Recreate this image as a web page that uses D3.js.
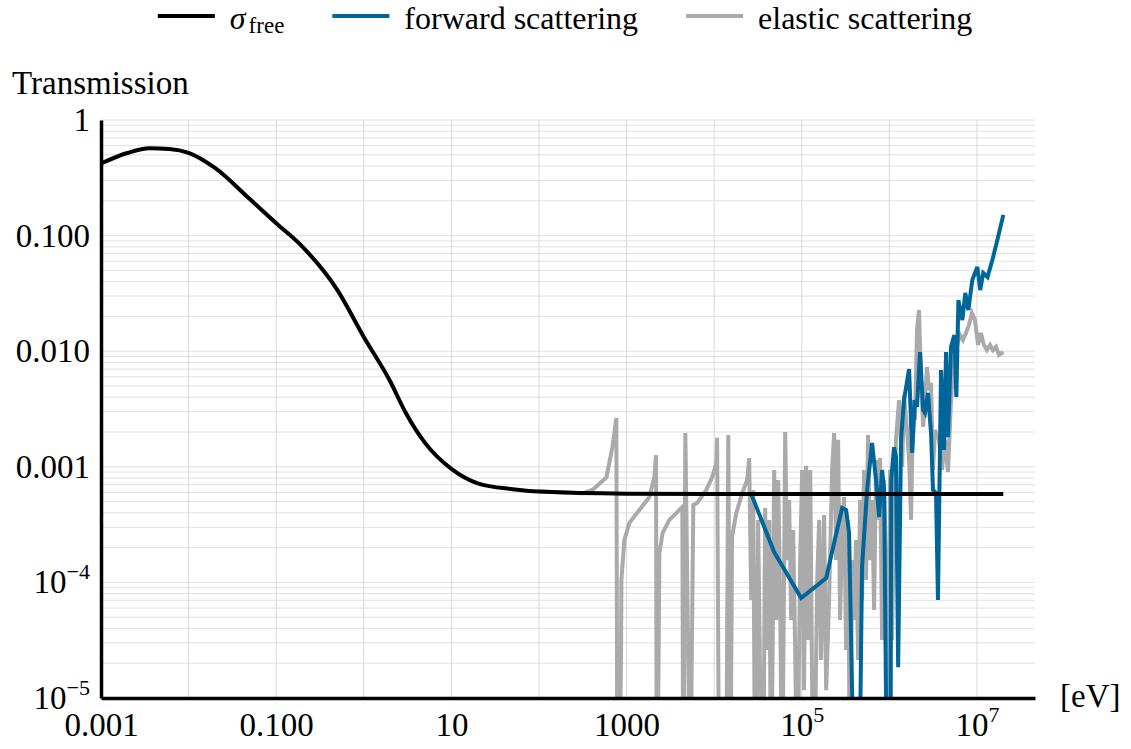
<!DOCTYPE html>
<html>
<head>
<meta charset="utf-8">
<script src="https://cdn.jsdelivr.net/npm/d3@7"></script>
<style>
  body { margin: 0; background: #fff; }
  svg text { font-family: "Liberation Serif", "Times New Roman", serif; fill: #000; }
</style>
</head>
<body>
<div id="chart"></div>
<script>
// sigma_free transmission (energy in eV)
const freeEnergy = [0.001, 0.002, 0.0036, 0.006, 0.01, 0.02, 0.05, 0.1, 0.2, 0.5, 1, 2, 3, 5, 10, 20, 50, 100, 1000, 1e4, 1e5, 1e6, 1e7, 2e7];
const freeTrans = [0.42, 0.518, 0.569, 0.561, 0.52, 0.385, 0.207, 0.128, 0.080, 0.0338, 0.0133, 0.0055, 0.00295, 0.00161, 0.00096, 0.00072, 0.00064, 0.00061, 0.000585, 0.000582, 0.000582, 0.000582, 0.000582, 0.000582];

// forward scattering
const forwardEnergy = [2.65e4, 4.84e4, 9.84e4, 1.9e5, 2.34e5, 2.89e5, 3.21e5, 3.47e5, 3.76e5, 3.96e5, 4.51e5, 4.88e5, 5.57e5, 6.35e5, 7.05e5, 7.64e5, 8.26e5, 8.71e5, 9.42e5, 1.03e6, 1.05e6, 1.13e6, 1.19e6, 1.26e6, 1.36e6, 1.47e6, 1.68e6, 1.82e6, 1.96e6, 2.07e6, 2.24e6, 2.43e6, 2.55e6, 2.76e6, 2.99e6, 3.15e6, 3.41e6, 3.59e6, 3.89e6, 4.21e6, 4.44e6, 4.67e6, 5.06e6, 5.52e6, 5.82e6, 6.14e6, 6.81e6, 7.36e6, 7.98e6, 8.85e6, 1.01e7, 1.09e7, 1.18e7, 1.32e7, 1.5e7, 1.71e7, 2.0e7];
const forwardTrans = [5.82e-4, 1.83e-4, 7.33e-5, 1.09e-4, 2.19e-4, 4.4e-4, 4.23e-4, 2.67e-4, 1.1e-5, 1e-6, 1e-6, 1.36e-4, 6.3e-4, 1.61e-3, 7.69e-4, 3.68e-4, 9.38e-4, 6.3e-4, 1e-6, 1e-6, 7.69e-4, 1.48e-3, 1.22e-3, 1.85e-5, 1.71e-3, 3.78e-3, 7.0e-3, 1.32e-3, 3.78e-3, 3.29e-3, 9.84e-3, 3.1e-3, 2.92e-3, 4.35e-3, 1.96e-3, 6.3e-4, 5.93e-4, 7.04e-5, 6.88e-3, 1.4e-3, 9.84e-3, 1.8e-3, 1.09e-2, 1.38e-2, 4.02e-3, 2.77e-2, 1.86e-2, 3.19e-2, 2.27e-2, 4.13e-2, 5.35e-2, 3.38e-2, 4.75e-2, 4.38e-2, 6.15e-2, 9.16e-2, 0.151];

// elastic scattering (values under 1e-5 fall below the frame)
const elasticEnergy = [100, 313, 407, 589, 689, 765, 785, 828, 865, 873, 944, 1076, 1400, 1820, 2075, 2170, 2210, 2245, 2370, 2580, 3080, 3790, 4330, 4440, 4690, 5330, 5780, 6410, 8130, 9510, 1.06e4, 1.08e4, 1.14e4, 1.37e4, 1.45e4, 1.53e4, 1.6e4, 1.79e4, 2.09e4, 2.38e4, 2.51e4,
  2.65e4, 2.79e4, 2.94e4, 3.18e4, 3.35e4, 3.63e4, 3.82e4, 4.03e4, 4.25e4, 4.48e4, 4.84e4, 5.11e4, 5.38e4, 5.67e4, 5.97e4, 6.47e4, 6.81e4, 7.18e4, 7.57e4, 7.98e4, 8.41e4, 8.87e4, 9.59e4, 1.01e5, 1.06e5, 1.12e5, 1.18e5, 1.25e5, 1.31e5, 1.38e5, 1.5e5, 1.58e5, 1.66e5, 1.8e5, 1.9e5, 2.05e5, 2.22e5, 2.34e5, 2.47e5, 2.6e5, 2.74e5, 2.89e5, 3.04e5, 3.21e5, 3.38e5, 3.56e5, 3.76e5, 3.96e5, 4.17e5, 4.4e5, 4.63e5, 4.88e5, 5.14e5, 5.42e5, 5.71e5, 6.03e5, 6.35e5, 6.7e5, 7.05e5, 7.43e5, 7.83e5, 8.26e5, 8.71e5, 9.16e5, 9.66e5, 1.02e6, 1.07e6, 1.13e6, 1.19e6,
  1.29e6, 1.4e6, 1.47e6, 1.59e6, 1.68e6, 1.77e6, 1.87e6, 1.96e6, 2.07e6, 2.18e6, 2.3e6, 2.43e6, 2.55e6, 2.69e6, 2.84e6, 2.99e6, 3.15e6, 3.32e6, 3.69e6, 3.99e6, 4.32e6, 4.67e6, 5.06e6, 5.47e6, 5.92e6, 6.4e6, 6.92e6, 7.5e6, 8.11e6, 8.77e6, 9.49e6, 1.03e7, 1.11e7, 1.2e7, 1.3e7, 1.41e7, 1.52e7, 1.65e7, 1.78e7, 2.0e7];
const elasticTrans = [6.1e-4, 5.9e-4, 6.3e-4, 8.1e-4, 1.48e-3, 2.64e-3, 1e-6, 1e-6, 2.8e-5, 1.05e-4, 2.33e-4, 3.27e-4, 4.23e-4, 5.48e-4, 8.16e-4, 1.26e-3, 1e-6, 1e-6, 1.8e-4, 2.67e-4, 3.47e-4, 4.06e-4, 4.49e-4, 1e-6, 1.96e-3, 1e-6, 4.67e-4, 4.86e-4, 6.3e-4, 8.16e-4, 1.08e-3, 1.78e-3, 1e-6, 1e-6, 1.88e-3, 1e-6, 2.47e-4, 3.98e-4, 5.93e-4, 7.69e-4, 1.19e-3,
  7.04e-5, 6.3e-4, 1e-6, 3.47e-4, 1.43e-5, 1e-6, 4.4e-4, 2.6e-5, 3.47e-4, 1e-6, 9.38e-4, 4.72e-5, 7.69e-4, 7.04e-5, 1e-6, 2.0e-3, 1.56e-4, 5.16e-4, 4.72e-5, 2.84e-4, 2.6e-5, 1e-6, 1.56e-4, 9.38e-4, 1.17e-5, 1.02e-3, 3.17e-5, 9.38e-4, 1.43e-5, 1e-6, 1.05e-4, 3.47e-4, 2.13e-5, 3.83e-4, 1.17e-5, 7.04e-5, 9.38e-4, 1.96e-3, 1.56e-4, 1.71e-3, 4.72e-5, 2.84e-4, 5.48e-4, 2.6e-5, 3.47e-4, 1e-6, 1.56e-4, 4.72e-5, 2.33e-4, 2.13e-5, 5.16e-4, 7.04e-5, 9.38e-4, 1.05e-4, 1.88e-3, 1.56e-4, 5.16e-4, 5.77e-5, 1.15e-3, 3.47e-4, 1.19e-3, 3.17e-5, 7.69e-4, 1.28e-4, 1e-6, 9.38e-4, 3.17e-5, 3.27e-4, 1.71e-3,
  3.78e-3, 1.0e-3, 4.18e-3, 2.08e-3, 1.15e-3, 3.47e-4, 3.78e-3, 2.54e-3, 1.53e-2, 2.27e-2, 5.63e-3, 2.21e-3, 3.78e-3, 7.3e-3, 4.61e-3, 5.31e-3, 9.38e-4, 2.08e-3, 1.71e-3, 9.38e-4, 1.71e-3, 9.02e-4, 3.78e-3, 8.39e-3, 1.13e-2, 1.38e-2, 1.25e-2, 1.44e-2, 1.69e-2, 2.14e-2, 1.86e-2, 1.13e-2, 1.44e-2, 1.13e-2, 1.02e-2, 1.13e-2, 1.02e-2, 1.09e-2, 9.27e-3, 9.84e-3];

const seriesNames = ["σ", "forward scattering", "elastic scattering"];
const seriesColors = ["#000000", "#00669a", "#aaaaaa"];

const xTickValues = [1e-3, 1e-1, 1e1, 1e3, 1e5, 1e7];
const xTickLabels = ["0.001", "0.100", "10", "1000", "10^5", "10^7"];
const yTickValues = [1, 0.1, 0.01, 0.001, 1e-4, 1e-5];
const yTickLabels = ["1", "0.100", "0.010", "0.001", "10^−4", "10^−5"];

const width = 1131, height = 749;
const fontSize = 33;

const svg = d3.select("#chart").append("svg")
  .attr("width", width)
  .attr("height", height);

const x = d3.scaleLog().domain([1e-3, 4.6e7]).range([101, 1035]);
const y = d3.scaleLog().domain([1e-5, 1]).range([698, 120]);

// grid
const grid = svg.append("g");
const hLines = [];
for (let p = -5; p <= 0; p++) {
  for (let k = 1; k <= 9; k++) {
    const v = k * Math.pow(10, p);
    if (v <= 1) hLines.push(v);
  }
}
grid.selectAll("line.h").data(hLines).join("line")
  .attr("x1", x.range()[0]).attr("x2", x.range()[1])
  .attr("y1", d => y(d)).attr("y2", d => y(d))
  .attr("stroke", "#e0e0e0").attr("stroke-width", 1);
const vLines = d3.range(-2, 8).map(p => Math.pow(10, p));
grid.selectAll("line.v").data(vLines).join("line")
  .attr("x1", d => x(d)).attr("x2", d => x(d))
  .attr("y1", y.range()[1]).attr("y2", y.range()[0])
  .attr("stroke", "#d8d8d8").attr("stroke-width", 1);

// clip to plot frame
svg.append("clipPath").attr("id", "frame")
  .append("rect")
  .attr("x", x.range()[0]).attr("y", y.range()[1])
  .attr("width", x.range()[1] - x.range()[0])
  .attr("height", y.range()[0] - y.range()[1]);

const plot = svg.append("g").attr("clip-path", "url(#frame)");

const line = d3.line().x(d => x(d[0])).y(d => y(d[1]));
const smooth = d3.line().x(d => x(d[0])).y(d => y(d[1])).curve(d3.curveMonotoneX);

plot.append("path")
  .datum(d3.zip(elasticEnergy, elasticTrans))
  .attr("d", line)
  .attr("fill", "none").attr("stroke", seriesColors[2]).attr("stroke-width", 4);

plot.append("path")
  .datum(d3.zip(forwardEnergy, forwardTrans))
  .attr("d", line)
  .attr("fill", "none").attr("stroke", seriesColors[1]).attr("stroke-width", 4);

plot.append("path")
  .datum(d3.zip(freeEnergy, freeTrans))
  .attr("d", smooth)
  .attr("fill", "none").attr("stroke", seriesColors[0]).attr("stroke-width", 4);

// label helper: "10^5" -> 10 with superscript 5
function setLabel(sel, label) {
  sel.text(null);
  const parts = label.split("^");
  sel.append("tspan").text(parts[0]);
  if (parts[1]) {
    sel.append("tspan").attr("dy", -14).attr("font-size", 22).text(parts[1]);
  }
}

// axes
const yAxis = svg.append("g")
  .attr("transform", `translate(${x.range()[0]},0)`)
  .call(d3.axisLeft(y).tickValues(yTickValues).tickSize(0).tickSizeOuter(0).tickPadding(11));
yAxis.attr("font-family", null).attr("font-size", fontSize);
yAxis.select(".domain").attr("stroke", "#000").attr("stroke-width", 3.5);
yAxis.selectAll(".tick text").each(function (d, i) { setLabel(d3.select(this), yTickLabels[i]); });

const xAxis = svg.append("g")
  .attr("transform", `translate(0,${y.range()[0]})`)
  .call(d3.axisBottom(x).tickValues(xTickValues).tickSize(0).tickSizeOuter(0).tickPadding(15));
xAxis.attr("font-family", null).attr("font-size", fontSize);
xAxis.select(".domain").attr("stroke", "#000").attr("stroke-width", 3.5);
xAxis.selectAll(".tick text").each(function (d, i) { setLabel(d3.select(this), xTickLabels[i]); });

svg.append("text").attr("x", 12).attr("y", 94).attr("font-size", fontSize).text("Transmission");
svg.append("text").attr("x", 1060).attr("y", 707).attr("font-size", fontSize).text("[eV]");

// legend
const legend = svg.append("g");
let cursor = 0;
seriesNames.forEach((name, i) => {
  const item = legend.append("g").attr("transform", `translate(${cursor},0)`);
  item.append("line")
    .attr("x1", 0).attr("x2", 57).attr("y1", 16).attr("y2", 16)
    .attr("stroke", seriesColors[i]).attr("stroke-width", 4);
  const t = item.append("text").attr("x", 72).attr("y", 29).attr("font-size", 32);
  if (i === 0) {
    t.append("tspan").attr("font-style", "italic").text(name);
    t.append("tspan").attr("dx", 3).attr("dy", 4).attr("font-size", 23).text("free");
  } else {
    t.text(name);
  }
  cursor += 72 + t.node().getBBox().width + 48;
});
const legendWidth = cursor - 48;
legend.attr("transform", `translate(${565 - legendWidth / 2},0)`);
</script>
</body>
</html>
